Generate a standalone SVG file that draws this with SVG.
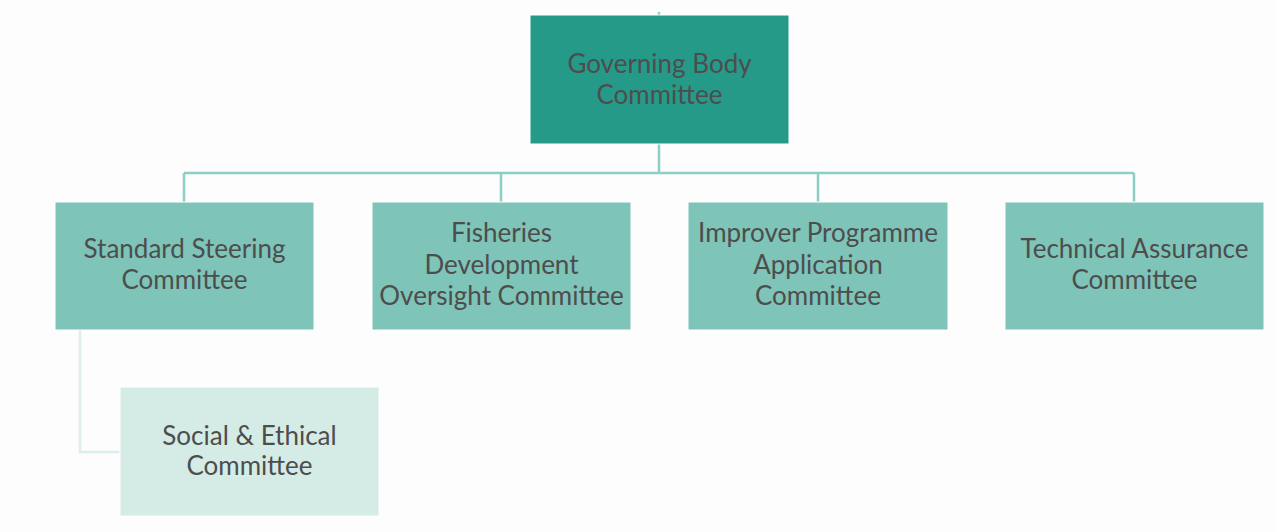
<svg xmlns="http://www.w3.org/2000/svg" width="1277" height="532" viewBox="0 0 1277 532">
<style>
.bg{fill:#fdfdfd}
.top{fill:#269a89;stroke:#ffffff;stroke-width:1}
.mid{fill:#7fc4b8;stroke:#ffffff;stroke-width:1}
.low{fill:#d5ebe6;stroke:#ffffff;stroke-width:1}
text{font-family:Lato,"Liberation Sans",sans-serif;font-size:26px;fill:#4d4d4d;text-anchor:middle;dominant-baseline:central}
.conn{fill:none;stroke:#8ccfc4;stroke-width:2.5}
.conn2{fill:none;stroke:#dbefec;stroke-width:2.5}
</style>
<rect class="bg" x="0" y="0" width="1277" height="532"/>
<g id="connectors">
<path class="conn" d="M659 144 V173 M184 173 H1134 M184 173 V202 M501 173 V202 M818 173 V202 M1134 173 V202"/>
<path class="conn" d="M659 12 V15" stroke-width="1.5"/>
<path class="conn2" d="M80 330 V452 H120"/>
</g>
<g id="governing">
<rect class="top" x="530" y="15" width="259" height="129"/>
<text x="659.5" y="63">Governing Body</text>
<text x="659.5" y="94">Committee</text>
</g>
<g id="standard">
<rect class="mid" x="55" y="202" width="259" height="128"/>
<text x="184.5" y="248">Standard Steering</text>
<text x="184.5" y="279">Committee</text>
</g>
<g id="fisheries">
<rect class="mid" x="372" y="202" width="259" height="128"/>
<text x="501.5" y="232">Fisheries</text>
<text x="501.5" y="264">Development</text>
<text x="501.5" y="295">Oversight Committee</text>
</g>
<g id="improver">
<rect class="mid" x="688" y="202" width="260" height="128"/>
<text x="818" y="232">Improver Programme</text>
<text x="818" y="264">Application</text>
<text x="818" y="295">Committee</text>
</g>
<g id="technical">
<rect class="mid" x="1005" y="202" width="259" height="128"/>
<text x="1134.5" y="248">Technical Assurance</text>
<text x="1134.5" y="279">Committee</text>
</g>
<g id="social">
<rect class="low" x="120" y="387" width="259" height="129"/>
<text x="249.5" y="435">Social &amp; Ethical</text>
<text x="249.5" y="465">Committee</text>
</g>
</svg>
